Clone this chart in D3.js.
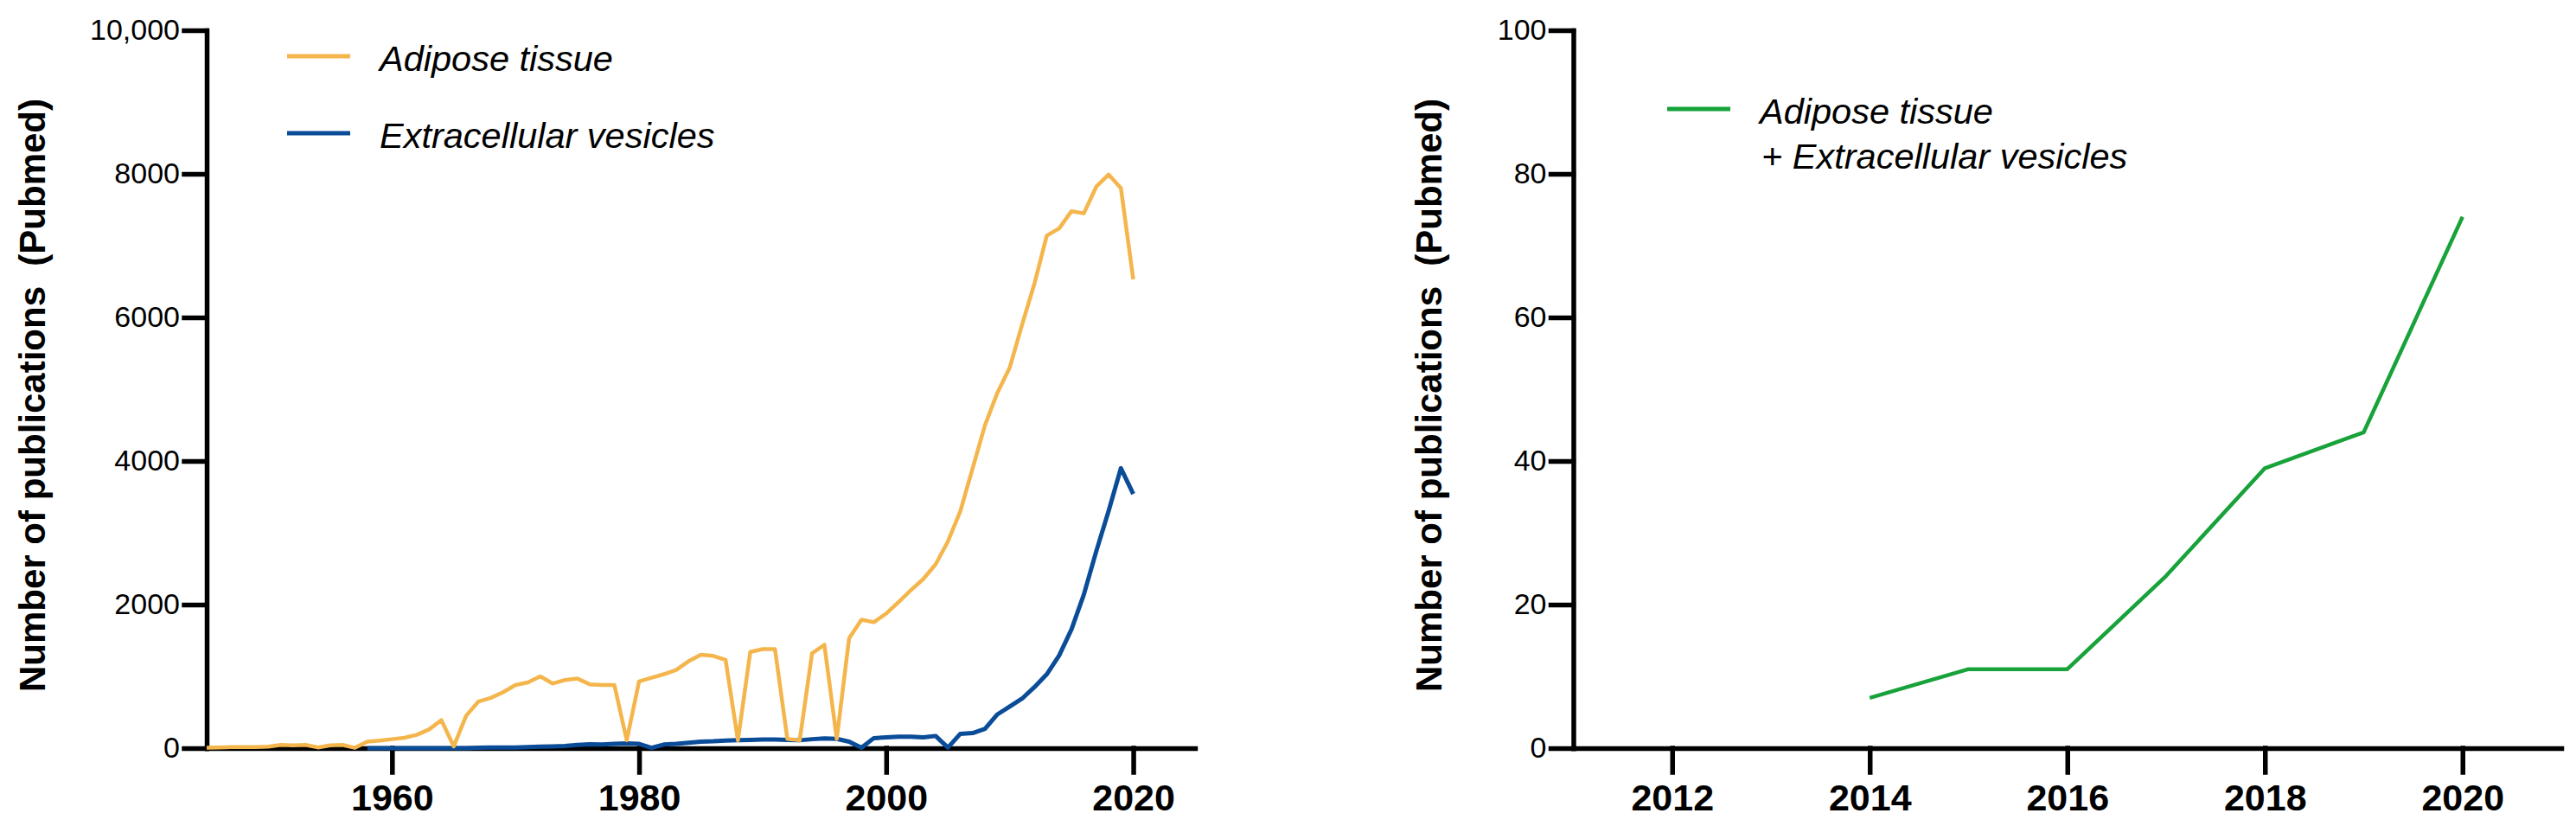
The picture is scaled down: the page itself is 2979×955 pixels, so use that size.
<!DOCTYPE html>
<html>
<head>
<meta charset="utf-8">
<script src="https://cdn.jsdelivr.net/npm/d3@7"></script>
<style>
  body { margin: 0; background: #fff; }
  svg { display: block; }
  .axis path, .axis line { stroke: #000; stroke-width: 5.5; stroke-linecap: square; }
  .ytick text { font-family: "Liberation Sans", Arial, sans-serif; font-size: 34px; fill: #000; }
  .xtick text { font-family: "Liberation Sans", Arial, sans-serif; font-size: 43px; font-weight: bold; fill: #000; }
</style>
</head>
<body>
<div id="chart"></div>
<script>
// left panel: publications per year, 1945-2020
const years = d3.range(1945, 2021);
const adipose = [
  5, 10, 15, 15, 15, 20, 45, 40, 45, 10,          // 1945-1954
  40, 45, 5, 90, 105, 125, 145, 185, 260, 390,    // 1955-1964
  25, 450, 650, 700, 780, 880, 915, 1000, 900, 950, // 1965-1974
  970, 890, 880, 880, 110, 930, 980, 1030, 1090, 1210, // 1975-1984
  1300, 1285, 1230, 110, 1340, 1380, 1380, 130, 110, 1320, // 1985-1994
  1440, 130, 1530, 1790, 1755, 1875, 2035, 2200, 2355, 2560, // 1995-2004
  2880, 3300, 3900, 4500, 4950, 5300, 5900, 6470, 7140, 7240, // 2005-2014
  7480, 7450, 7820, 7990, 7800, 6530              // 2015-2020
];
const evYears = d3.range(1958, 2021);
const vesicles = [
  0, 0, 0, 0, 0, 0, 0, 0, 0, 5,                   // 1958-1967
  10, 10, 10, 15, 20, 25, 30, 45, 55, 50,         // 1968-1977
  60, 65, 60, 5, 50, 60, 75, 90, 95, 105,         // 1978-1987
  110, 115, 120, 120, 115, 110, 125, 135, 130, 90, // 1988-1997
  5, 140, 150, 160, 160, 150, 170, 8, 200, 210,   // 1998-2007
  270, 470, 580, 690, 850, 1030, 1290, 1655, 2140, 2740, // 2008-2017
  3300, 3900, 3540                                // 2018-2020
];

// right panel: combined search
const comboYears = [2014, 2015, 2016, 2017, 2018, 2019, 2020];
const combo = [7, 11, 11, 24, 39, 44, 74];

const leftYTicks = [0, 2000, 4000, 6000, 8000, 10000];
const leftXTicks = [1960, 1980, 2000, 2020];
const rightYTicks = [0, 20, 40, 60, 80, 100];
const rightXTicks = [2012, 2014, 2016, 2018, 2020];

const colors = { adipose: "#F4B64C", vesicles: "#0B4C98", combo: "#17A23A" };
const yTitle = "Number of publications\u00a0\u00a0(Pubmed)";

const width = 2979, height = 955;
const svg = d3.select("#chart").append("svg")
  .attr("width", width)
  .attr("height", height);

const font = "'Liberation Sans', Arial, sans-serif";

// scales
const xL = d3.scaleLinear().domain([1945, 2025]).range([239, 1382]);
const yL = d3.scaleLinear().domain([0, 10000]).range([865, 35]);
const xR = d3.scaleLinear().domain([2011, 2021]).range([1819.5, 2962]);
const yR = d3.scaleLinear().domain([0, 100]).range([865, 35]);

function drawAxes(x, y, xTicks, yTicks, yFmt) {
  svg.append("g")
    .attr("class", "axis xtick")
    .attr("transform", `translate(0,${y(0)})`)
    .call(d3.axisBottom(x).tickValues(xTicks).tickFormat(d3.format("d"))
      .tickSize(28).tickSizeOuter(0).tickPadding(13));
  svg.append("g")
    .attr("class", "axis ytick")
    .attr("transform", `translate(${x.range()[0]},0)`)
    .call(d3.axisLeft(y).tickValues(yTicks).tickFormat(yFmt)
      .tickSize(26).tickSizeOuter(0).tickPadding(5));
}

drawAxes(xL, yL, leftXTicks, leftYTicks, (d) => (d === 10000 ? "10,000" : d));
drawAxes(xR, yR, rightXTicks, rightYTicks, (d) => d);

// y axis titles
function yLabel(xPos) {
  svg.append("text")
    .attr("transform", `translate(${xPos},457) rotate(-90)`)
    .attr("text-anchor", "middle")
    .style("font-family", font)
    .style("font-size", "42px")
    .style("font-weight", "bold")
    .text(yTitle);
}
yLabel(52);
yLabel(1667);

// lines
function drawLine(xs, vals, x, y, color, w) {
  const pts = xs.map((d, i) => [d, vals[i]]);
  svg.append("path")
    .datum(pts)
    .attr("fill", "none")
    .attr("stroke", color)
    .attr("stroke-width", w)
    .attr("stroke-linejoin", "round")
    .attr("d", d3.line().x((d) => x(d[0])).y((d) => y(d[1])));
}
drawLine(evYears, vesicles, xL, yL, colors.vesicles, 5);
drawLine(years, adipose, xL, yL, colors.adipose, 4.5);
drawLine(comboYears, combo, xR, yR, colors.combo, 4.5);

// legends
function legendItem(x0, yc, color, lines) {
  svg.append("line")
    .attr("x1", x0).attr("x2", x0 + 73)
    .attr("y1", yc).attr("y2", yc)
    .attr("stroke", color).attr("stroke-width", 5);
  const t = svg.append("text")
    .attr("x", x0 + 107)
    .attr("y", yc + 16.5)
    .style("font-family", font)
    .style("font-size", "41.5px")
    .style("font-style", "italic");
  lines.forEach((l, i) => {
    t.append("tspan")
      .attr("x", x0 + 107 + (i > 0 ? 2 : 0))
      .attr("dy", i === 0 ? 0 : 52)
      .text(l);
  });
}
legendItem(332, 65, colors.adipose, ["Adipose tissue"]);
legendItem(332, 154, colors.vesicles, ["Extracellular vesicles"]);
legendItem(1928, 126, colors.combo, ["Adipose tissue", "+ Extracellular vesicles"]);
</script>
</body>
</html>
